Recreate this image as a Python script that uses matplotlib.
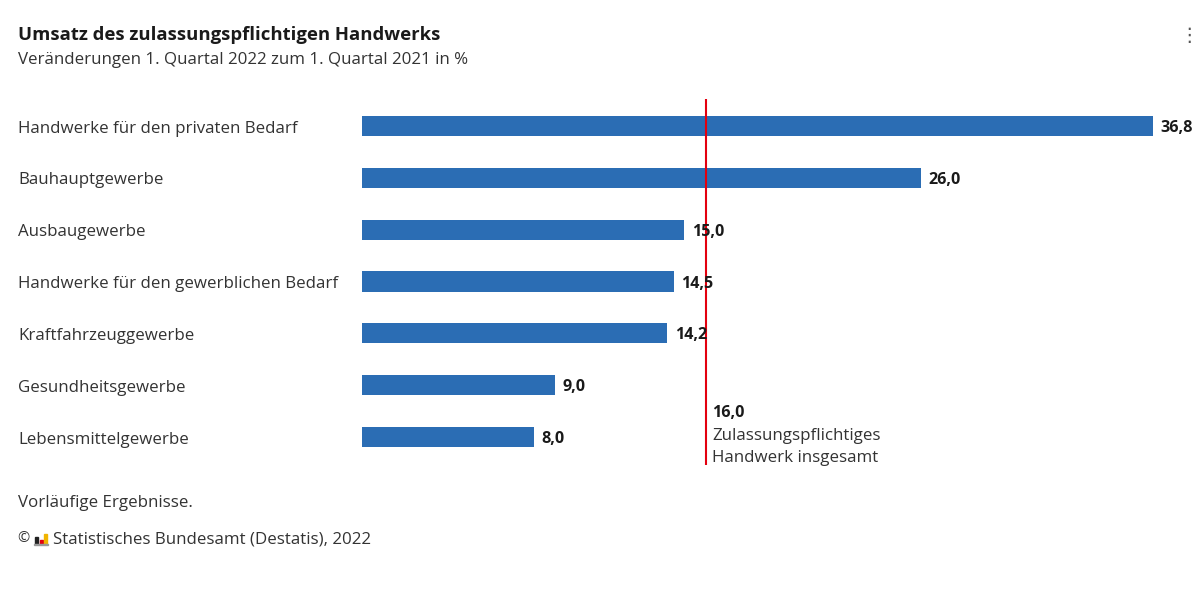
import matplotlib.pyplot as plt
from matplotlib.patches import Rectangle

# data
categories = [
    "Handwerke für den privaten Bedarf",
    "Bauhauptgewerbe",
    "Ausbaugewerbe",
    "Handwerke für den gewerblichen Bedarf",
    "Kraftfahrzeuggewerbe",
    "Gesundheitsgewerbe",
    "Lebensmittelgewerbe",
]
values = [36.8, 26.0, 15.0, 14.5, 14.2, 9.0, 8.0]
total_value = 16.0
total_lines = ["Zulassungspflichtiges", "Handwerk insgesamt"]

BLUE = "#2b6db4"
RED = "#e3000f"
TXT = "#333333"
FONT = ["Open Sans", "DejaVu Sans"]

plt.rcParams["font.family"] = FONT

fig = plt.figure(figsize=(12, 6), dpi=100)
fig.patch.set_facecolor("white")

# axes placed in pixel terms: x 362..1153 for 0..36.8, y 99..465
ax = fig.add_axes([362 / 1200, 1 - 465 / 600, (1153 - 362) / 1200, (465 - 99) / 600])
ax.set_xlim(0, 36.8)
ax.set_ylim(6.54, -0.52)
ax.axis("off")

ypos = list(range(len(values)))
ax.barh(ypos, values, height=0.39, color=BLUE, edgecolor="none")

for y, v, cat in zip(ypos, values, categories):
    ax.text(v + 0.35, y + 0.04, f"{v:.1f}".replace(".", ","), va="center", ha="left",
            fontsize=11.6, fontweight="bold", color="#1a1a1a", clip_on=False)
    ax.text(-16.0, y + 0.05, cat, va="center", ha="left",
            fontsize=12.2, color=TXT, clip_on=False)

ax.axvline(total_value, color=RED, lw=1.5)
ax.text(total_value + 0.28, 5.54, f"{total_value:.1f}".replace(".", ","), va="center",
        ha="left", fontsize=11.6, fontweight="bold", color="#1a1a1a")
for k, line in enumerate(total_lines):
    ax.text(total_value + 0.28, 5.98 + k * 0.43, line, va="center", ha="left",
            fontsize=12.2, color=TXT)

# title block
fig.text(18 / 1200, 1 - 35 / 600, "Umsatz des zulassungspflichtigen Handwerks",
         fontsize=13.3, fontweight="bold", color="#1a1a1a", va="center")
fig.text(18 / 1200, 1 - 60 / 600, "Veränderungen 1. Quartal 2022 zum 1. Quartal 2021 in %",
         fontsize=12.2, color=TXT, va="center")
fig.text(1199 / 1200, 1 - 36 / 600, "⋮", fontsize=14, color="#555555", va="center", ha="right")

# footer
fig.text(18 / 1200, 1 - 503 / 600, "Vorläufige Ergebnisse.", fontsize=12.2, color=TXT, va="center")
fig.text(17 / 1200, 1 - 539 / 600, "©", fontsize=10.5, color=TXT, va="center")
fig.text(53 / 1200, 1 - 539 / 600, "Statistisches Bundesamt (Destatis), 2022",
         fontsize=12.2, color=TXT, va="center")
# tiny logo bars
for x0, h, c in [(35, 7, "#222222"), (40, 4, "#e3000f"), (44, 10, "#f0b400")]:
    fig.patches.append(Rectangle((x0 / 1200, 1 - 544 / 600), 3 / 1200, h / 600,
                                 transform=fig.transFigure, color=c))
fig.patches.append(Rectangle((34 / 1200, 1 - 545 / 600), 14 / 1200, 1 / 600,
                             transform=fig.transFigure, color="#999999"))

fig.savefig("out.png", dpi=100, facecolor="white")
